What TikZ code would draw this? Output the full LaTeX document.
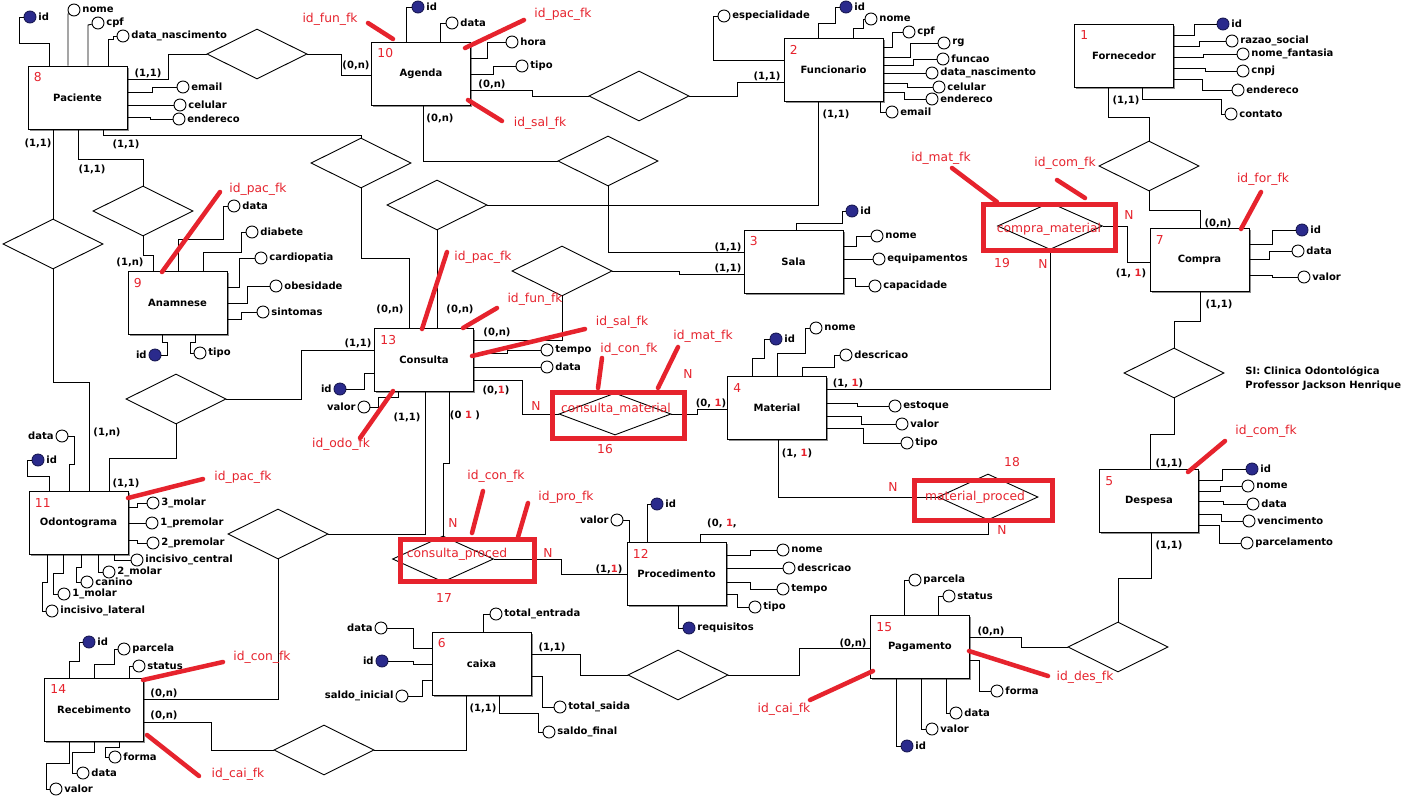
\documentclass[tikz,border=0pt]{standalone}
\usepackage{fontspec}
\setmainfont{DejaVu Sans}
\usetikzlibrary{shapes.geometric,shadows}
\definecolor{fkred}{RGB}{230,35,45}
\definecolor{keyblue}{RGB}{42,42,140}
% attribute circle with its name beside it
\newcommand\mkattr[4]{\node[attr, label={[atxt]#4:#3}] (#1) at (#2) {};}
% key attribute (filled circle)
\newcommand\mkkey[4]{\node[key, label={[atxt]#4:#3}] (#1) at (#2) {};}
\newcommand\rone{\textcolor{fkred}{1}}
\begin{document}
\begin{tikzpicture}[x=1pt,y=-1pt,
  line width=0.9pt,
  ent/.style={draw, line width=1pt, fill=white, minimum width=99pt, minimum height=63pt, inner sep=0pt,
    font=\fontsize{10}{12}\selectfont\bfseries,
    drop shadow={shadow xshift=1.8pt, shadow yshift=-1.8pt, fill=black!45, opacity=1}},
  rel/.style={diamond, draw, fill=white, inner sep=0pt, minimum width=100pt, minimum height=50pt},
  attr/.style={circle, draw, fill=white, inner sep=0pt, minimum size=12pt},
  key/.style={attr, fill=keyblue, draw=keyblue!60!black},
  atxt/.style={font=\fontsize{10}{12}\selectfont\bfseries, inner sep=1.5pt},
  card/.style={font=\fontsize{10}{12}\selectfont\bfseries, inner sep=0pt},
  rtxt/.style={font=\fontsize{12.3}{14}\selectfont, text=fkred, inner sep=0pt},
  num/.style={rtxt, anchor=west},
  fk/.style={draw=fkred, line width=4.5pt, line cap=round},
  fkbox/.style={draw=fkred, line width=5pt},
]
\useasboundingbox[fill=white] (0,0) rectangle (1422,804);

% ---------------- entities ----------------
\node[ent] (pac)  at (77.5,97.5)  {Paciente};
\node[ent] (age)  at (421,73.5)   {Agenda};
\node[ent] (fun)  at (833.5,69.5) {Funcionario};
\node[ent] (forn) at (1124,55.5)  {Fornecedor};
\node[ent] (sala) at (793.5,261.5){Sala};
\node[ent] (comp) at (1199.5,260) {Compra};
\node[ent] (mat)  at (777,408)    {Material};
\node[ent] (con)  at (424,360)    {Consulta};
\node[ent] (ana)  at (177.5,303)  {Anamnese};
\node[ent] (odo)  at (78.5,523)   {Odontograma};
\node[ent] (proc) at (676.5,574)  {Procedimento};
\node[ent] (cai)  at (481.5,663.5){caixa};
\node[ent] (rec)  at (94,709.5)   {Recebimento};
\node[ent] (pag)  at (920,647)    {Pagamento};
\node[ent] (desp) at (1149,501)   {Despesa};

\foreach \e/\n in {pac/8,age/10,fun/2,forn/1,sala/3,comp/7,mat/4,con/13,ana/9,odo/11,proc/12,cai/6,rec/14,pag/15,desp/5}
  \node[num] (\e-num) at ([xshift=6pt,yshift=-12pt]\e.north west) {\n};

% ---------------- relationships ----------------
\node[rel] (r-pa)  at (257,54)   {};
\node[rel] (r-af)  at (639,96)   {};
\node[rel] (r-as)  at (608,161)  {};
\node[rel] (r-fc)  at (437,205)  {};
\node[rel] (r-pc)  at (361,163)  {};
\node[rel] (r-cs)  at (562,271)  {};
\node[rel] (r-fcm) at (1149,166) {};
\node[rel] (r-cd)  at (1174,373) {};
\node[rel] (r-dp)  at (1118,647) {};
\node[rel] (r-cp)  at (678,675)  {};
\node[rel] (r-cr)  at (324,750)  {};
\node[rel] (r-rc)  at (278,534)  {};
\node[rel] (r-pan) at (143,211)  {};
\node[rel] (r-po)  at (53,244)   {};
\node[rel] (r-oc)  at (176,399)  {};
\node[rel, minimum width=112pt, minimum height=42pt] (r-cm)  at (615,414)  {};
\node[rel, minimum width=105pt, minimum height=47pt] (r-cmt) at (1050,226) {};
\node[rel, minimum width=100pt, minimum height=46pt] (r-mp)  at (988,497)  {};
\node[rel, minimum width=101pt, minimum height=46pt] (r-cpr) at (443,559)  {};

% ---------------- attributes ----------------
\mkkey{pac-id}{30,17}{id}{right}
\mkattr{pac-nome}{74,10}{nome}{right}
\mkattr{pac-cpf}{98,23}{cpf}{right}
\mkattr{pac-dn}{123,36}{data\_nascimento}{right}
\mkattr{pac-email}{183,87}{email}{right}
\mkattr{pac-cel}{180,105}{celular}{right}
\mkattr{pac-end}{179,119}{endereco}{right}

\mkkey{age-id}{418,7}{id}{right}
\mkattr{age-data}{452,23}{data}{right}
\mkattr{age-hora}{512,42}{hora}{right}
\mkattr{age-tipo}{522,66}{tipo}{right}

\mkattr{fun-esp}{724,16}{especialidade}{right}
\mkkey{fun-id}{846,7}{id}{right}
\mkattr{fun-nome}{871,19}{nome}{right}
\mkattr{fun-cpf}{909,32}{cpf}{right}
\mkattr{fun-rg}{944,43}{rg}{right}
\mkattr{fun-funcao}{943,59}{funcao}{right}
\mkattr{fun-dn}{932,73}{data\_nascimento}{right}
\mkattr{fun-cel}{939,87}{celular}{right}
\mkattr{fun-end}{932,99}{endereco}{right}
\mkattr{fun-email}{892,112}{email}{right}

\mkkey{forn-id}{1223,24}{id}{right}
\mkattr{forn-rs}{1232,41}{razao\_social}{right}
\mkattr{forn-nf}{1243,54}{nome\_fantasia}{right}
\mkattr{forn-cnpj}{1243,71}{cnpj}{right}
\mkattr{forn-end}{1238,90}{endereco}{right}
\mkattr{forn-cont}{1231,114}{contato}{right}

\mkkey{sala-id}{852,211}{id}{right}
\mkattr{sala-nome}{877,236}{nome}{right}
\mkattr{sala-eq}{879,259}{equipamentos}{right}
\mkattr{sala-cap}{875,286}{capacidade}{right}

\mkkey{comp-id}{1302,230}{id}{right}
\mkattr{comp-data}{1298,251}{data}{right}
\mkattr{comp-valor}{1304,277}{valor}{right}

\mkkey{mat-id}{776,339}{id}{right}
\mkattr{mat-nome}{816,328}{nome}{right}
\mkattr{mat-desc}{846,355}{descricao}{right}
\mkattr{mat-est}{895,406}{estoque}{right}
\mkattr{mat-valor}{902,424}{valor}{right}
\mkattr{mat-tipo}{907,443}{tipo}{right}

\mkattr{con-tempo}{547,350}{tempo}{right}
\mkattr{con-data}{547,367}{data}{right}
\mkkey{con-id}{340,389}{id}{left}
\mkattr{con-valor}{364,407}{valor}{left}

\mkattr{ana-data}{234,206}{data}{right}
\mkattr{ana-diab}{252,232}{diabete}{right}
\mkattr{ana-card}{261,258}{cardiopatia}{right}
\mkattr{ana-obes}{276,286}{obesidade}{right}
\mkattr{ana-sint}{263,312}{sintomas}{right}
\mkkey{ana-id}{155,355}{id}{left}
\mkattr{ana-tipo}{200,353}{tipo}{right}

\mkattr{odo-data}{62,436}{data}{left}
\mkkey{odo-id}{38,460}{id}{right}
\mkattr{odo-3m}{153,503}{3\_molar}{right}
\mkattr{odo-1p}{152,523}{1\_premolar}{right}
\mkattr{odo-2p}{153,543}{2\_premolar}{right}
\mkattr{odo-ic}{137,560}{incisivo\_central}{right}
\mkattr{odo-2m}{109,572}{2\_molar}{right}
\mkattr{odo-can}{87,582}{canino}{right}
\mkattr{odo-1m}{64,594}{1\_molar}{right}
\mkattr{odo-il}{52,611}{incisivo\_lateral}{right}

\mkkey{proc-id}{657,504}{id}{right}
\mkattr{proc-valor}{617,520}{valor}{left}
\mkattr{proc-nome}{783,550}{nome}{right}
\mkattr{proc-desc}{789,568}{descricao}{right}
\mkattr{proc-tempo}{783,589}{tempo}{right}
\mkattr{proc-tipo}{755,607}{tipo}{right}
\mkkey{proc-req}{689,628}{requisitos}{right}

\mkattr{cai-te}{496,614}{total\_entrada}{right}
\mkattr{cai-data}{381,628}{data}{left}
\mkkey{cai-id}{382,661}{id}{left}
\mkattr{cai-si}{402,696}{saldo\_inicial}{left}
\mkattr{cai-ts}{560,707}{total\_saida}{right}
\mkattr{cai-sf}{549,732}{saldo\_final}{right}

\mkkey{rec-id}{89,642}{id}{right}
\mkattr{rec-parc}{124,649}{parcela}{right}
\mkattr{rec-status}{139,666}{status}{right}
\mkattr{rec-forma}{115,757}{forma}{right}
\mkattr{rec-data}{83,773}{data}{right}
\mkattr{rec-valor}{56,789}{valor}{right}

\mkattr{pag-parc}{915,580}{parcela}{right}
\mkattr{pag-status}{949,596}{status}{right}
\mkattr{pag-forma}{997,691}{forma}{right}
\mkattr{pag-data}{956,713}{data}{right}
\mkattr{pag-valor}{932,729}{valor}{right}
\mkkey{pag-id}{907,746}{id}{right}

\mkkey{desp-id}{1252,469}{id}{right}
\mkattr{desp-nome}{1248,486}{nome}{right}
\mkattr{desp-data}{1253,504}{data}{right}
\mkattr{desp-venc}{1249,521}{vencimento}{right}
\mkattr{desp-parc}{1247,543}{parcelamento}{right}

% ---------------- attribute links ----------------
\draw (49,0 |- pac.north) -- (49,43) -- (19,43) |- (pac-id);
\draw (68,0 |- pac.north) -- (68,14) -- (pac-nome);
\draw (88,0 |- pac.north) -- (88,25) -- (pac-cpf);
\draw (108,0 |- pac.north) -- (108,39) -- (113,39) |- (pac-dn);
\draw (pac.east |- 0,92) -- (152,92) |- (pac-email);
\draw (pac.east |- 0,105) -- (pac-cel);
\draw (pac.east |- 0,117) -- (150,117) |- (pac-end);

\draw (406,0 |- age.north) |- (age-id);
\draw (440,0 |- age.north) |- (age-data);
\draw (age.east |- 0,58) -- (487,58) |- (age-hora);
\draw (age.east |- 0,74) -- (493,74) |- (age-tipo);

\draw (fun.west |- 0,60) -- (713,60) |- (fun-esp);
\draw (818,0 |- fun.north) -- (818,23) -- (835,23) |- (fun-id);
\draw (853,0 |- fun.north) -- (853,28) -- (863,28) |- (fun-nome);
\draw (fun.east |- 0,47) -- (892,47) |- (fun-cpf);
\draw (fun.east |- 0,57) -- (910,57) |- (fun-rg);
\draw (fun.east |- 0,65) -- (913,65) |- (fun-funcao);
\draw (fun.east |- 0,73) -- (fun-dn);
\draw (fun.east |- 0,83) -- (907,83) |- (fun-cel);
\draw (fun.east |- 0,92) -- (904,92) |- (fun-end);
\draw (880,0 |- fun.south) |- (fun-email);

\draw (forn.east |- 0,35) -- (1194,35) |- (forn-id);
\draw (forn.east |- 0,46) -- (1199,46) |- (forn-rs);
\draw (forn.east |- 0,57) -- (1203,57) |- (forn-nf);
\draw (forn.east |- 0,68) -- (1205,68) |- (forn-cnpj);
\draw (forn.east |- 0,79) -- (1202,79) |- (forn-end);
\draw (1142,0 |- forn.south) -- (1142,99) -- (1221,99) |- (forn-cont);

\draw (796,0 |- sala.north) -- (796,223) -- (842,223) |- (sala-id);
\draw (sala.east |- 0,246) -- (856,246) |- (sala-nome);
\draw (sala.east |- 0,259) -- (sala-eq);
\draw (sala.east |- 0,278) -- (855,278) |- (sala-cap);

\draw (comp.east |- 0,244) -- (1272,244) |- (comp-id);
\draw (comp.east |- 0,259) -- (1269,259) |- (comp-data);
\draw (comp.east |- 0,275) -- (1272,275) |- (comp-valor);

\draw (752,0 |- mat.north) -- (752,358) -- (764,358) |- (mat-id);
\draw (777,0 |- mat.north) -- (777,353) -- (805,353) |- (mat-nome);
\draw (802,0 |- mat.north) -- (802,367) -- (834,367) |- (mat-desc);
\draw (mat.east |- 0,403) -- (857,403) |- (mat-est);
\draw (mat.east |- 0,416) -- (861,416) |- (mat-valor);
\draw (mat.east |- 0,428) -- (863,428) |- (mat-tipo);

\draw (con.east |- 0,353) -- (507,353) |- (con-tempo);
\draw (con.east |- 0,367) -- (con-data);
\draw (con.west |- 0,373) -- (364,373) |- (con-id);
\draw (398,0 |- con.south) -- (398,397) -- (378,397) |- (con-valor);

\draw (178,0 |- ana.north) -- (178,239) -- (223,239) |- (ana-data);
\draw (203,0 |- ana.north) -- (203,252) -- (241,252) |- (ana-diab);
\draw (ana.east |- 0,287) -- (239,287) |- (ana-card);
\draw (ana.east |- 0,303) -- (247,303) |- (ana-obes);
\draw (ana.east |- 0,319) -- (241,319) |- (ana-sint);
\draw (162,0 |- ana.south) -- (162,342) -- (167,342) |- (ana-id);
\draw (195,0 |- ana.south) -- (195,342) -- (190,342) |- (ana-tipo);

\draw (69,0 |- odo.north) -- (69,464) -- (74,464) |- (odo-data);
\draw (49,0 |- odo.north) -- (49,476) -- (27,476) |- (odo-id);
\draw (odo.east |- 0,507) -- (137,507) |- (odo-3m);
\draw (odo.east |- 0,523) -- (odo-1p);
\draw (odo.east |- 0,540) -- (137,540) |- (odo-2p);
\draw (114,0 |- odo.south) |- (odo-ic);
\draw (98,0 |- odo.south) |- (odo-2m);
\draw (81,0 |- odo.south) -- (81,567) -- (76,567) |- (odo-can);
\draw (63,0 |- odo.south) -- (63,573) -- (53,573) |- (odo-1m);
\draw (47,0 |- odo.south) -- (47,582) -- (42,582) |- (odo-il);

\draw (647,0 |- proc.north) |- (proc-id);
\draw (629,0 |- proc.north) |- (proc-valor);
\draw (proc.east |- 0,555) -- (750,555) |- (proc-nome);
\draw (proc.east |- 0,568) -- (proc-desc);
\draw (proc.east |- 0,582) -- (750,582) |- (proc-tempo);
\draw (proc.east |- 0,594) -- (737,594) |- (proc-tipo);
\draw (678,0 |- proc.south) |- (proc-req);

\draw (483,0 |- cai.north) |- (cai-te);
\draw (cai.west |- 0,648) -- (413,648) |- (cai-data);
\draw (cai.west |- 0,664) -- (413,664) |- (cai-id);
\draw (cai.west |- 0,680) -- (422,680) |- (cai-si);
\draw (cai.east |- 0,676) -- (542,676) |- (cai-ts);
\draw (499,0 |- cai.south) -- (499,713) -- (538,713) |- (cai-sf);

\draw (69,0 |- rec.north) -- (69,661) -- (79,661) |- (rec-id);
\draw (94,0 |- rec.north) -- (94,664) -- (114,664) |- (rec-parc);
\draw (129,0 |- rec.north) |- (rec-status);
\draw (119,0 |- rec.south) -- (119,747) -- (105,747) |- (rec-forma);
\draw (94,0 |- rec.south) -- (94,752) -- (72,752) |- (rec-data);
\draw (69,0 |- rec.south) -- (69,763) -- (46,763) |- (rec-valor);

\draw (904,0 |- pag.north) |- (pag-parc);
\draw (938,0 |- pag.north) |- (pag-status);
\draw (pag.east |- 0,660) -- (979,660) |- (pag-forma);
\draw (946,0 |- pag.south) |- (pag-data);
\draw (921,0 |- pag.south) |- (pag-valor);
\draw (896,0 |- pag.south) |- (pag-id);

\draw (desp.east |- 0,480) -- (1222,480) |- (desp-id);
\draw (desp.east |- 0,491) -- (1220,491) |- (desp-nome);
\draw (desp.east |- 0,501) -- (1223,501) |- (desp-data);
\draw (desp.east |- 0,514) -- (1221,514) |- (desp-venc);
\draw (desp.east |- 0,525) -- (1219,525) |- (desp-parc);

% ---------------- relationship links ----------------
\draw (pac.east |- 0,79) -- (168,79) |- (r-pa.west);
\draw (r-pa.east) -- (341,54) |- (age.west |- 0,75);
\draw (age.east |- 0,90) -- (532,90) |- (r-af.west);
\draw (r-af.east) -- (737,96) |- (fun.west |- 0,82);
\draw (423,0 |- age.south) |- (r-as.west);
\draw (r-as.south) |- (sala.west |- 0,252);
\draw (818,0 |- fun.south) |- (r-fc.east);
\draw (r-fc.south) -- (r-fc.south |- con.north);
\draw (103,0 |- pac.south) -- (103,135) -| (r-pc.north);
\draw (r-pc.south) -- (361,258) -| (409,0 |- con.north);
\draw (con.east |- 0,340) -| (r-cs.south);
\draw (r-cs.east) -- (679,271) |- (sala.west |- 0,274);
\draw (1108,0 |- forn.south) -- (1108,117) -| (r-fcm.north);
\draw (r-fcm.south) -- (1149,210) -| (1200,0 |- comp.north);
\draw (1200,0 |- comp.south) -- (1200,321) -| (r-cd.north);
\draw (r-cd.south) -- (1174,434) -| (1150,0 |- desp.north);
\draw (1151,0 |- desp.south) -- (1151,578) -| (r-dp.north);
\draw (r-dp.west) -- (1021,647) |- (pag.east |- 0,637);
\draw (pag.west |- 0,648) -- (799,648) |- (r-cp.east);
\draw (r-cp.west) -- (580,675) |- (cai.east |- 0,654);
\draw (466,0 |- cai.south) |- (r-cr.east);
\draw (r-cr.west) -- (211,750) |- (rec.east |- 0,722);
\draw (rec.east |- 0,699) -| (r-rc.south);
\draw (r-rc.east) -- (425,534) -- (425,0 |- con.south);
\draw (78,0 |- pac.south) -- (78,159) -| (r-pan.north);
\draw (r-pan.south) -- (143,255) -- (153,255) -- (153,0 |- ana.north);
\draw (53,0 |- pac.south) -- (r-po.north);
\draw (r-po.south) -- (53,382) -| (89,0 |- odo.north);
\draw (109,0 |- odo.north) -- (109,458) -| (r-oc.south);
\draw (r-oc.east) -- (301,399) |- (con.west |- 0,350);
\draw (con.east |- 0,380) -- (522,380) |- (r-cm.west);
\draw (r-cm.east) -- (697,414) |- (mat.west |- 0,409);
\draw (449,0 |- con.south) -- (449,463) -- (443,463) -- (r-cpr.north);
\draw (r-cpr.east) -- (561,559) |- (proc.west |- 0,574);
\draw (mat.east |- 0,389) -| (r-cmt.south);
\draw (r-cmt.east) -- (1127,226) |- (comp.west |- 0,262);
\draw (778,0 |- mat.south) |- (r-mp.west);
\draw (r-mp.south) -- (988,534) -| (700,0 |- proc.north);

% ---------------- cardinalities ----------------
\node[card] (k1)  at (148,73)  {(1,1)};
\node[card] (k2)  at (356,65)  {(0,n)};
\node[card] (k3)  at (492,84)  {(0,n)};
\node[card] (k4)  at (767,76)  {(1,1)};
\node[card] (k5)  at (440,118) {(0,n)};
\node[card] (k6)  at (728,247) {(1,1)};
\node[card] (k7)  at (836,114) {(1,1)};
\node[card] (k8)  at (460,309) {(0,n)};
\node[card] (k9)  at (126,144) {(1,1)};
\node[card] (k10) at (390,309) {(0,n)};
\node[card] (k11) at (497,332) {(0,n)};
\node[card] (k12) at (728,268) {(1,1)};
\node[card] (k13) at (1126,100){(1,1)};
\node[card] (k14) at (1218,223){(0,n)};
\node[card] (k15) at (1219,304){(1,1)};
\node[card] (k16) at (1169,463){(1,1)};
\node[card] (k17) at (1169,545){(1,1)};
\node[card] (k18) at (991,631) {(0,n)};
\node[card] (k19) at (853,643) {(0,n)};
\node[card] (k20) at (552,647) {(1,1)};
\node[card] (k21) at (483,708) {(1,1)};
\node[card] (k22) at (164,715) {(0,n)};
\node[card] (k23) at (164,693) {(0,n)};
\node[card] (k24) at (407,417) {(1,1)};
\node[card] (k25) at (92,169)  {(1,1)};
\node[card] (k26) at (130,262) {(1,n)};
\node[card] (k27) at (38,143)  {(1,1)};
\node[card] (k28) at (107,432) {(1,n)};
\node[card] (k29) at (126,483) {(1,1)};
\node[card] (k30) at (358,343) {(1,1)};
\node[card] (k31) at (496,390) {(0,\rone)};
\node[card] (k32) at (465,415) {(0\ \rone\ )};
\node[card] (k33) at (711,403) {(0, \rone)};
\node[card] (k34) at (848,383) {(1, \rone)};
\node[card] (k35) at (797,453) {(1, \rone)};
\node[card] (k36) at (1131,273){(1, \rone)};
\node[card] (k37) at (722,523) {(0, \rone,};
\node[card] (k38) at (609,569) {(1,\rone)};

% ---------------- associative entities (red) ----------------
\draw[fkbox] (552.5,392.5) rectangle (684.5,438.5);
\draw[fkbox] (983.5,204.5) rectangle (1115.5,250.5);
\draw[fkbox] (914.5,480.5) rectangle (1052.5,520.5);
\draw[fkbox] (400.5,539.5) rectangle (534.5,581.5);
\node[rtxt] (t-cm)  at (616,409)  {consulta\_material};
\node[rtxt] (t-cmt) at (1049,229) {compra\_material};
\node[rtxt] (t-mp)  at (975,497)  {material\_proced};
\node[rtxt] (t-cpr) at (457,554)  {consulta\_proced};
\node[rtxt] (n16) at (605,449)  {16};
\node[rtxt] (n19) at (1002,263) {19};
\node[rtxt] (n18) at (1012,462) {18};
\node[rtxt] (n17) at (444,598)  {17};
\node[rtxt] (m1) at (536,406)  {N};
\node[rtxt] (m2) at (688,374)  {N};
\node[rtxt] (m3) at (1043,264) {N};
\node[rtxt] (m4) at (1129,215) {N};
\node[rtxt] (m5) at (893,487)  {N};
\node[rtxt] (m6) at (1002,530) {N};
\node[rtxt] (m7) at (453,523)  {N};
\node[rtxt] (m8) at (548,553)  {N};

% ---------------- foreign key marks ----------------
\draw[fk] (368,23) -- (393,39);     \node[rtxt] (fk1)  at (330,19)  {id\_fun\_fk};
\draw[fk] (524,20) -- (465,48);     \node[rtxt] (fk2)  at (563,14)  {id\_pac\_fk};
\draw[fk] (502,121) -- (468,100);   \node[rtxt] (fk3)  at (540,123) {id\_sal\_fk};
\draw[fk] (220,192) -- (162,272);   \node[rtxt] (fk4)  at (258,189) {id\_pac\_fk};
\draw[fk] (447,252) -- (422,329);   \node[rtxt] (fk5)  at (483,257) {id\_pac\_fk};
\draw[fk] (497,308) -- (463,328);   \node[rtxt] (fk6)  at (535,299) {id\_fun\_fk};
\draw[fk] (585,329) -- (472,356);   \node[rtxt] (fk7)  at (622,322) {id\_sal\_fk};
\draw[fk] (393,391) -- (360,438);   \node[rtxt] (fk8)  at (341,444) {id\_odo\_fk};
\draw[fk] (602,358) -- (598,388);   \node[rtxt] (fk9)  at (629,349) {id\_con\_fk};
\draw[fk] (678,347) -- (658,388);   \node[rtxt] (fk10) at (703,336) {id\_mat\_fk};
\draw[fk] (952,168) -- (997,202);   \node[rtxt] (fk11) at (941,158) {id\_mat\_fk};
\draw[fk] (1057,180) -- (1085,198); \node[rtxt] (fk12) at (1065,163){id\_com\_fk};
\draw[fk] (1261,192) -- (1241,229); \node[rtxt] (fk13) at (1263,179){id\_for\_fk};
\draw[fk] (1225,441) -- (1188,472); \node[rtxt] (fk14) at (1266,431){id\_com\_fk};
\draw[fk] (203,479) -- (128,498);   \node[rtxt] (fk15) at (243,477) {id\_pac\_fk};
\draw[fk] (483,491) -- (472,533);   \node[rtxt] (fk16) at (496,476) {id\_con\_fk};
\draw[fk] (528,503) -- (518,537);   \node[rtxt] (fk17) at (566,497) {id\_pro\_fk};
\draw[fk] (223,662) -- (143,680);   \node[rtxt] (fk18) at (262,657) {id\_con\_fk};
\draw[fk] (147,735) -- (199,776);   \node[rtxt] (fk19) at (238,774) {id\_cai\_fk};
\draw[fk] (810,700) -- (873,671);   \node[rtxt] (fk20) at (784,709) {id\_cai\_fk};
\draw[fk] (969,651) -- (1048,676);  \node[rtxt] (fk21) at (1085,677){id\_des\_fk};

% ---------------- title ----------------
\node[anchor=west, align=left, inner sep=0pt, font=\fontsize{10}{14}\selectfont\bfseries] (title)
  at (1245,379) {SI: Clinica Odontológica\\Professor Jackson Henrique};
\end{tikzpicture}
\end{document}
